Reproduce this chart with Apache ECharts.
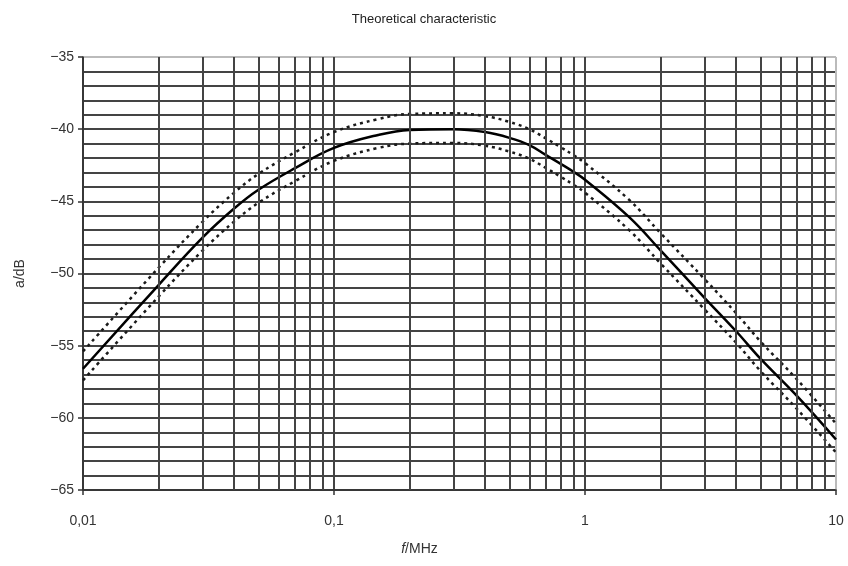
<!DOCTYPE html>
<html>
<head>
<meta charset="utf-8">
<script src="https://cdn.jsdelivr.net/npm/echarts@6/dist/echarts.min.js"></script>
<style>
  html, body { margin: 0; padding: 0; background: #fff; }
  #chart { width: 848px; height: 566px; }
</style>
</head>
<body>
<div id="chart"></div>
<script>
// frequencies (MHz)
const freqs = [0.01, 0.02, 0.03, 0.04, 0.05, 0.07, 0.1, 0.15, 0.2, 0.3, 0.4, 0.5, 0.6, 0.7, 0.8, 0.9, 1, 1.5, 2, 3, 4, 5, 7, 10];
// theoretical curve
const nominal = [-56.6, -50.8, -47.5, -45.5, -44.2, -42.7, -41.3, -40.4, -40.05, -40.0, -40.2, -40.6, -41.1, -41.8, -42.4, -42.95, -43.5, -46.1, -48.4, -51.7, -54.0, -55.9, -58.5, -61.5];
// tolerance limits (dotted)
const upper = [-55.4, -49.6, -46.4, -44.4, -43.1, -41.6, -40.2, -39.3, -38.95, -38.9, -39.1, -39.5, -40.0, -40.65, -41.25, -41.8, -42.35, -44.9, -47.2, -50.4, -52.75, -54.7, -57.35, -60.4];
const lower = [-57.4, -51.6, -48.4, -46.4, -45.1, -43.6, -42.2, -41.3, -41.0, -40.95, -41.15, -41.55, -42.05, -42.7, -43.3, -43.85, -44.4, -47.0, -49.3, -52.5, -54.8, -56.75, -59.4, -62.4];
// vertical grid lines inside each decade
const minorFreqs = [0.02, 0.03, 0.04, 0.05, 0.06, 0.07, 0.08, 0.09,
                    0.2, 0.3, 0.4, 0.5, 0.6, 0.7, 0.8, 0.9,
                    2, 3, 4, 5, 6, 7, 8, 9];

const gridColor = '#444';
const pairs = vals => freqs.map((f, i) => [f, vals[i]]);

const chart = echarts.init(document.getElementById('chart'));

chart.setOption({
    animation: false,
    title: {
        text: 'Theoretical characteristic',
        left: 'center',
        top: 8,
        textStyle: { fontFamily: 'Liberation Sans', fontSize: 13, fontWeight: 'normal', color: '#222' }
    },
    grid: { left: 83, right: 12, top: 57, bottom: 76 },
    xAxis: {
        type: 'log',
        logBase: 10,
        min: 0.01,
        max: 10,
        name: '{i|f}/MHz',
        nameLocation: 'middle',
        nameGap: 52,
        nameTextStyle: {
            fontFamily: 'Liberation Sans', fontSize: 14, color: '#333',
            padding: [0, 80, 0, 0],
            rich: { i: { fontStyle: 'italic', fontFamily: 'Liberation Sans', fontSize: 14, color: '#333' } }
        },
        axisLine: { show: true, lineStyle: { color: '#333', width: 1.5 } },
        axisTick: { show: true, inside: false, length: 5, lineStyle: { color: '#333', width: 1.5 } },
        axisLabel: {
            margin: 24,
            fontFamily: 'Liberation Sans', fontSize: 14, color: '#333',
            formatter: v => String(v).replace('.', ',')
        },
        splitLine: { show: true, lineStyle: { color: [gridColor, gridColor, gridColor, '#bbb'], width: 2 } }
    },
    yAxis: {
        type: 'value',
        min: -65,
        max: -35,
        interval: 5,
        name: 'a/dB',
        nameLocation: 'middle',
        nameGap: 56,
        nameTextStyle: { fontFamily: 'Liberation Sans', fontSize: 14, color: '#333' },
        axisLine: { show: true, lineStyle: { color: '#333', width: 1.5 } },
        axisTick: { show: true, length: 5, lineStyle: { color: '#333', width: 1.5 } },
        axisLabel: {
            margin: 9,
            fontFamily: 'Liberation Sans', fontSize: 14, color: '#333',
            formatter: v => String(v).replace('-', '\u2212')
        },
        minorTick: { show: false, splitNumber: 5 },
        splitLine: { show: true, lineStyle: { color: [gridColor, gridColor, gridColor, gridColor, gridColor, gridColor, '#bbb'], width: 2 } },
        minorSplitLine: { show: true, lineStyle: { color: gridColor, width: 2 } }
    },
    series: [
        {
            name: 'grid',
            type: 'line',
            data: [],
            silent: true,
            markLine: {
                silent: true,
                symbol: 'none',
                label: { show: false },
                lineStyle: { color: gridColor, width: 2, type: 'solid' },
                data: minorFreqs.map(f => ({ xAxis: f }))
            }
        },
        {
            name: 'upper',
            type: 'line',
            data: pairs(upper),
            smooth: 0.4,
            symbol: 'none',
            lineStyle: { color: '#1a1a1a', width: 2.5, type: [3, 4] },
            z: 3
        },
        {
            name: 'lower',
            type: 'line',
            data: pairs(lower),
            smooth: 0.4,
            symbol: 'none',
            lineStyle: { color: '#1a1a1a', width: 2.5, type: [3, 4] },
            z: 3
        },
        {
            name: 'nominal',
            type: 'line',
            data: pairs(nominal),
            smooth: 0.4,
            symbol: 'none',
            lineStyle: { color: '#000', width: 2.5 },
            z: 4
        }
    ]
});
</script>
</body>
</html>
